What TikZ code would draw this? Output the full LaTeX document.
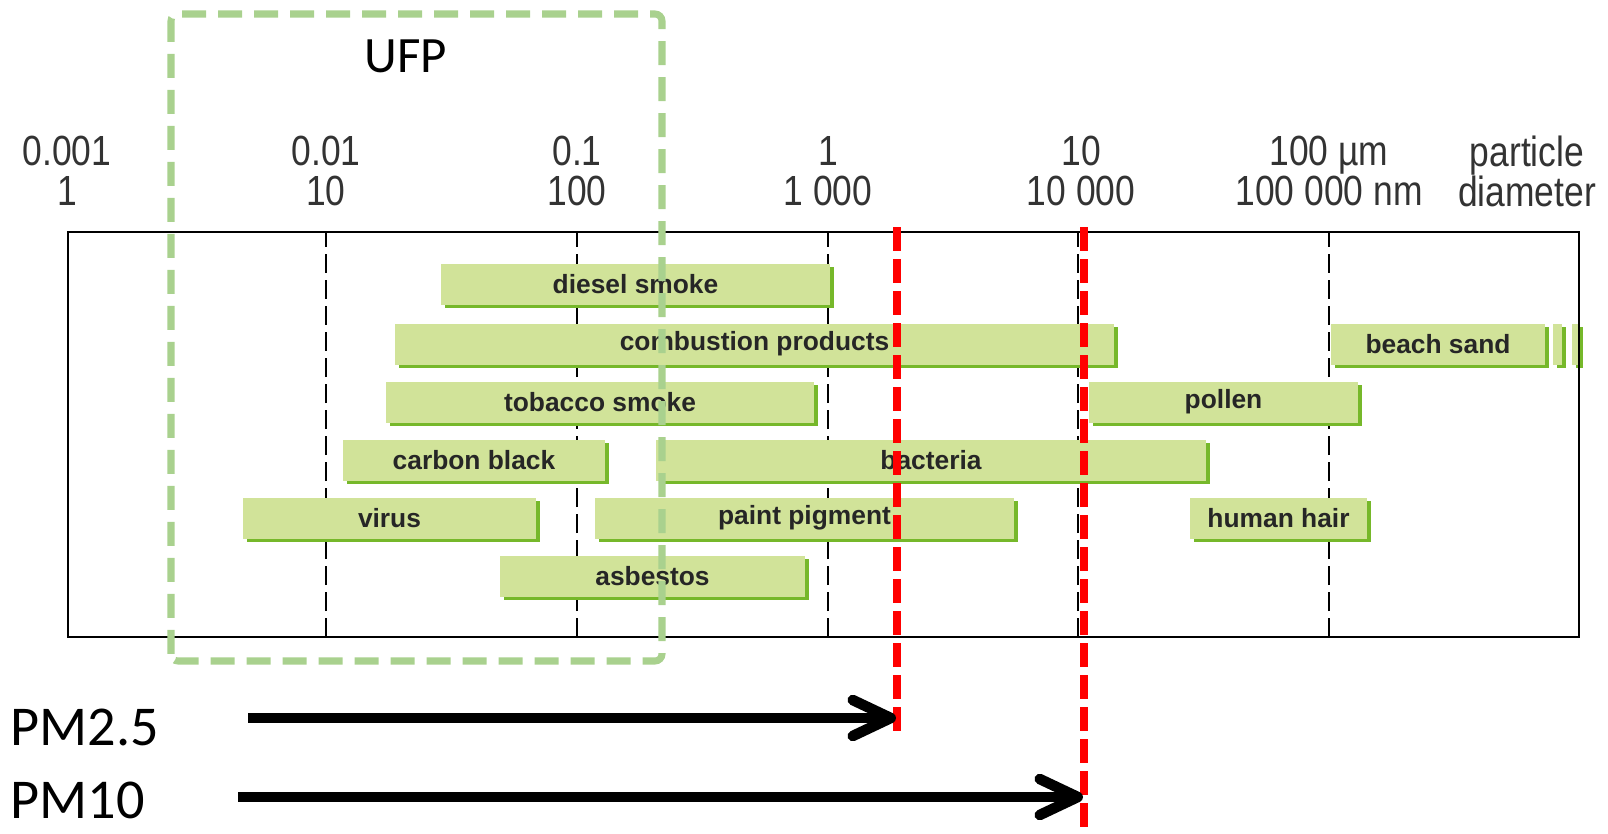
\documentclass[tikz,border=0pt]{standalone}
\usepackage{fontspec}
\setmainfont{Liberation Sans}
\newfontfamily\calfont{Carlito}
\newfontfamily\axisfont[FakeStretch=0.84]{Liberation Sans}
\usetikzlibrary{arrows.meta,shadows}
\definecolor{barfill}{RGB}{209,227,153}
\definecolor{barshade}{RGB}{118,184,42}
\definecolor{ufpgreen}{RGB}{169,209,142}
\definecolor{pmred}{RGB}{255,0,0}
\tikzset{
	sizebar/.style={fill=barfill, minimum height=0.41cm, inner sep=0pt, text=black!85,
		font=\bfseries\fontsize{7.5}{9}\selectfont,
		general shadow={fill=barshade, shadow xshift=0.035cm, shadow yshift=-0.035cm}},
	decade/.style={line width=0.7pt, dash pattern=on 0.19cm off 0.07cm},
	ticklabel/.style={align=center, text=black!80, font=\axisfont\fontsize{12}{11.4}\selectfont},
	ufpbox/.style={ufpgreen, line width=2pt, dash pattern=on 0.24cm off 0.12cm, rounded corners=2pt},
	cutoff/.style={pmred, line width=2.3pt, dash pattern=on 0.24cm off 0.08cm},
	pmarrow/.style={line width=3pt, -{Straight Barb[length=0.38cm,width=0.36cm,round]}},
	bigtext/.style={inner sep=0pt, font=\calfont\fontsize{16}{18}\selectfont}
}
\begin{document}
\begin{tikzpicture}
	\useasboundingbox (0,0) rectangle (16.08,8.33);
	\foreach \x in {3.26,5.77,8.28,10.78,13.29}
		\draw [decade] (\x,1.96) -- (\x,6.01);
	\node [ticklabel] (t0) at (0.67,6.62) {0.001\\1};
	\node [ticklabel] (t1) at (3.26,6.62) {0.01\\10};
	\node [ticklabel] (t2) at (5.77,6.62) {0.1\\100};
	\node [ticklabel] (t3) at (8.28,6.62) {1\\1 000};
	\node [ticklabel] (t4) at (10.81,6.62) {10\\10 000};
	\node [ticklabel] (t5) at (13.29,6.62) {100 µm\\100 000 nm};
	\node [ticklabel] (t6) at (15.27,6.62) {particle\\diameter};
	\node [sizebar, minimum width=3.89cm] (diesel) at (6.355,5.49) {diesel smoke};
	\node [sizebar, minimum width=7.19cm] (combustion) at (7.545,4.89) {combustion products};
	\node [sizebar, minimum width=2.14cm] (sand) at (14.38,4.89) {beach sand};
	\fill [barfill, general shadow={fill=barshade, shadow xshift=0.035cm, shadow yshift=-0.035cm}]
		(15.53,4.685) rectangle (15.62,5.095);
	\fill [barfill, general shadow={fill=barshade, shadow xshift=0.035cm, shadow yshift=-0.035cm}]
		(15.72,4.685) rectangle (15.79,5.095);
	\node [sizebar, minimum width=4.28cm] (tobacco) at (6.00,4.31) {tobacco smoke};
	\node [sizebar, minimum width=2.69cm] (pollen) at (12.235,4.31) {pollen};
	\node [sizebar, minimum width=2.62cm] (carbon) at (4.74,3.73) {carbon black};
	\node [sizebar, minimum width=5.50cm] (bacteria) at (9.31,3.73) {bacteria};
	\node [sizebar, minimum width=2.93cm] (virus) at (3.895,3.15) {virus};
	\node [sizebar, minimum width=4.19cm] (paint) at (8.045,3.15) {paint pigment};
	\node [sizebar, minimum width=1.77cm] (hair) at (12.785,3.15) {human hair};
	\node [sizebar, minimum width=3.05cm] (asbestos) at (6.525,2.57) {asbestos};
	\draw [line width=0.8pt] (0.68,1.96) rectangle (15.79,6.01);
	\draw [ufpbox] (1.71,1.72) rectangle (6.62,8.19);
	\node [bigtext, font=\calfont\fontsize{14.5}{16}\selectfont] (ufp) at (4.06,7.77) {UFP};
	\coordinate (pm25top) at (8.97,6.06);
	\coordinate (pm25bot) at (8.97,0.94);
	\coordinate (pm10top) at (10.84,6.06);
	\coordinate (pm10bot) at (10.84,0);
	\draw [cutoff] (pm25top) -- (pm25bot);
	\draw [cutoff] (pm10top) -- (pm10bot);
	\node [bigtext, anchor=west] (pm25) at (0.10,1.06) {PM2.5};
	\node [bigtext, anchor=west] (pm10) at (0.10,0.33) {PM10};
	\coordinate (pm25start) at (2.48,1.15);
	\coordinate (pm25end) at (8.96,1.15);
	\coordinate (pm10start) at (2.38,0.36);
	\coordinate (pm10end) at (10.83,0.36);
	\draw [pmarrow] (pm25start) -- (pm25end);
	\draw [pmarrow] (pm10start) -- (pm10end);
\end{tikzpicture}
\end{document}
